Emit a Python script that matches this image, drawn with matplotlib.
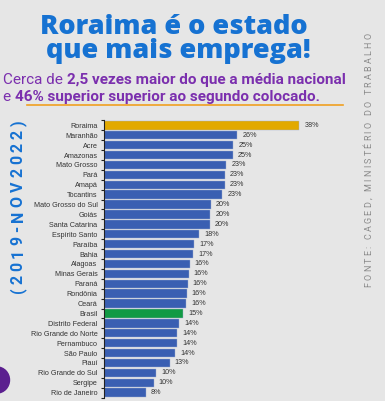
import numpy as np
import matplotlib.pyplot as plt
from matplotlib.patches import Circle
from matplotlib.lines import Line2D

# -----------------------------
# Data
# -----------------------------
states = ['Roraima', 'Maranhão', 'Acre', 'Amazonas', 'Mato Grosso', 'Pará', 'Amapá',
          'Tocantins', 'Mato Grosso do Sul', 'Goiás', 'Santa Catarina', 'Espírito Santo',
          'Paraíba', 'Bahia', 'Alagoas', 'Minas Gerais', 'Paraná', 'Rondônia', 'Ceará',
          'Brasil', 'Distrito Federal', 'Rio Grande do Norte', 'Pernambuco', 'São Paulo',
          'Piauí', 'Rio Grande do Sul', 'Sergipe', 'Rio de Janeiro']
values = [38.0, 25.9, 25.1, 25.0, 23.7, 23.5, 23.4, 23.0, 20.7, 20.6, 20.5, 18.5,
          17.5, 17.3, 16.6, 16.4, 16.2, 16.0, 15.9, 15.3, 14.5, 14.2, 14.1, 13.8,
          12.7, 10.1, 9.6, 8.0]
labels = ['38%', '26%', '25%', '25%', '23%', '23%', '23%', '23%', '20%', '20%', '20%',
          '18%', '17%', '17%', '16%', '16%', '16%', '16%', '16%', '15%', '14%', '14%',
          '14%', '14%', '13%', '10%', '10%', '8%']

BG = '#e6e6e6'
BLUE = '#3a5fb2'
GOLD = '#e2a900'
GREEN = '#129a44'
TITLE_BLUE = '#1672d2'
PURPLE = '#7b2fae'

W, H = 385, 401
fig = plt.figure(figsize=(W / 100, H / 100), dpi=100, facecolor=BG)

# -----------------------------
# Bar chart
# -----------------------------
n = len(states)
ax_left, ax_right = 104.5, 330
ax_top, ax_bot = 120.4, 397.6
ax = fig.add_axes([ax_left / W, 1 - ax_bot / H, (ax_right - ax_left) / W, (ax_bot - ax_top) / H])
ax.set_facecolor('none')

colors = [BLUE] * n
colors[0] = GOLD
colors[states.index('Brasil')] = GREEN
y = np.arange(n)
ax.barh(y, values, height=0.85, color=colors, edgecolor='#9fb0d0', linewidth=0.3)
for yi, v, lab in zip(y, values, labels):
    ax.text(v + 1.0, yi, lab, va='center', ha='left', fontsize=5.2,
            family='Liberation Sans', color='#333333')

ax.set_ylim(n - 0.5, -0.5)
ax.set_xlim(0, (ax_right - ax_left) / 5.13)
ax.set_yticks(y)
ax.set_yticklabels(states, fontsize=5.2, family='Liberation Sans', color='#333333')
ax.tick_params(axis='y', length=0, pad=5)
ax.set_yticks(np.arange(-0.5, n, 1.0), minor=True)
ax.tick_params(axis='y', which='minor', length=2.5, width=0.8, color='#222222')
ax.set_xticks([])
for s in ['top', 'right', 'bottom']:
    ax.spines[s].set_visible(False)
ax.spines['left'].set_color('#222222')
ax.spines['left'].set_linewidth(0.8)

# -----------------------------
# Titles
# -----------------------------
fig.text(174 / W, 1 - 34 / H, 'Roraima é o estado', ha='center', va='baseline',
         fontsize=19.5, family='Open Sans', fontweight='heavy', color=TITLE_BLUE)
fig.text(178 / W, 1 - 58 / H, 'que mais emprega!', ha='center', va='baseline',
         fontsize=19.5, family='Open Sans', fontweight='heavy', color=TITLE_BLUE)

fig.canvas.draw()
renderer = fig.canvas.get_renderer()


def write_line(parts, x0, ypix, size):
    x = x0
    for txt, bold in parts:
        t = fig.text(x / W, 1 - ypix / H, txt, ha='left', va='center', fontsize=size,
                     family='Roboto', fontweight='bold' if bold else 'normal',
                     color=PURPLE)
        bb = t.get_window_extent(renderer)
        x += bb.width
    return x


write_line([('Cerca de ', False), ('2,5 vezes maior do que a média nacional', True)],
           3, 80, 11.0)
write_line([('e ', False), ('46% superior superior ao segundo colocado.', True)],
           3, 97, 11.0)
fig.add_artist(Line2D([27 / W, 343 / W], [1 - 105 / H, 1 - 105 / H], color='#f0a020',
                      linewidth=1.2))


def vertical_spaced(text, xpix, y_bottom, y_top, **kw):
    # place characters one by one, bottom to top, spread evenly (pixel y from top)
    sizes = []
    for ch in text:
        t = fig.text(0, 0, ch, rotation=90, **kw)
        bb = t.get_window_extent(renderer)
        sizes.append(bb.height if ch != ' ' else kw['fontsize'] * 0.35)
        t.remove()
    gap = (y_bottom - y_top - sum(sizes)) / (len(text) - 1)
    ypos = y_bottom
    for ch, s in zip(text, sizes):
        fig.text(xpix / W, 1 - (ypos - s / 2) / H, ch, rotation=90, ha='center',
                 va='center', **kw)
        ypos -= s + gap


# side texts
vertical_spaced('(2019-NOV2022)', 18, 293, 120, fontsize=11.5, family='Roboto',
                fontweight='bold', color=TITLE_BLUE)
vertical_spaced('FONTE: CAGED, MINISTÉRIO DO TRABALHO', 369, 287, 33, fontsize=6.5,
                family='Roboto', color='#8a8a8a')

fig.add_artist(Circle((-3 / W, 1 - 380 / H), 12.5 / W, color='#5b1f8f',
                      transform=fig.transFigure))

plt.savefig('out.png', dpi=100, facecolor=BG)
